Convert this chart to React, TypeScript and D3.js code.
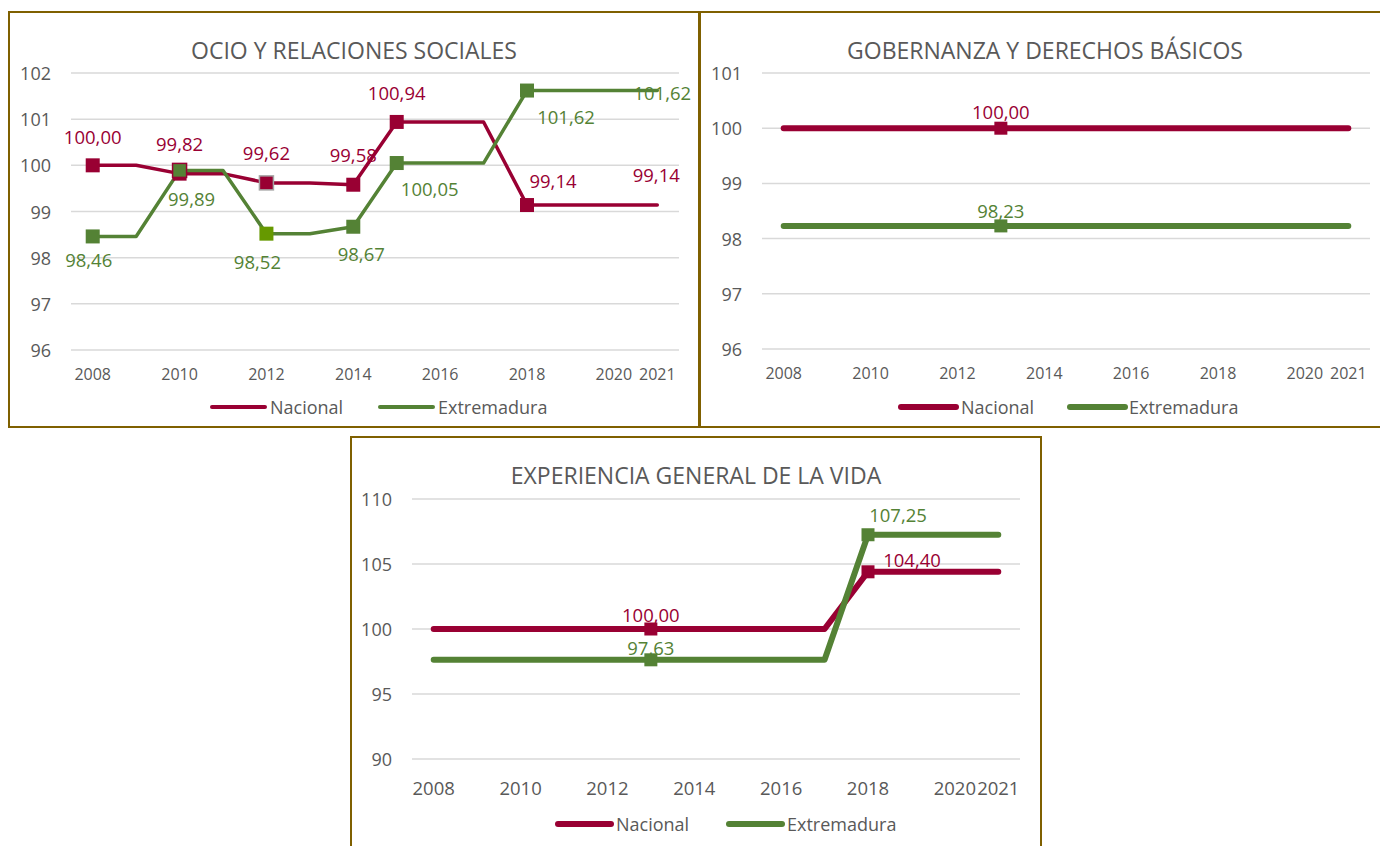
import React from 'react';
import * as d3 from 'd3';

// ---------- DATA ----------
const years = ['2008', '2009', '2010', '2011', '2012', '2013', '2014', '2015', '2016', '2017', '2018', '2019', '2020', '2021'];
const xTickLabels = ['2008', '2010', '2012', '2014', '2016', '2018', '2020', '2021'];
const seriesNames = ['Nacional', 'Extremadura'];

const ocioNacional = [100.0, 100.0, 99.82, 99.82, 99.62, 99.62, 99.58, 100.94, 100.94, 100.94, 99.14, 99.14, 99.14, 99.14];
const ocioExtremadura = [98.46, 98.46, 99.89, 99.89, 98.52, 98.52, 98.67, 100.05, 100.05, 100.05, 101.62, 101.62, 101.62, 101.62];
const ocioYTicks = [96, 97, 98, 99, 100, 101, 102];

const gobNacional = [100.0, 100.0, 100.0, 100.0, 100.0, 100.0, 100.0, 100.0, 100.0, 100.0, 100.0, 100.0, 100.0, 100.0];
const gobExtremadura = [98.23, 98.23, 98.23, 98.23, 98.23, 98.23, 98.23, 98.23, 98.23, 98.23, 98.23, 98.23, 98.23, 98.23];
const gobYTicks = [96, 97, 98, 99, 100, 101];

const expNacional = [100.0, 100.0, 100.0, 100.0, 100.0, 100.0, 100.0, 100.0, 100.0, 100.0, 104.4, 104.4, 104.4, 104.4];
const expExtremadura = [97.63, 97.63, 97.63, 97.63, 97.63, 97.63, 97.63, 97.63, 97.63, 97.63, 107.25, 107.25, 107.25, 107.25];
const expYTicks = [90, 95, 100, 105, 110];

// ---------- STYLE / LAYOUT ----------
const RED = '#990033';
const GREEN = '#548235';
const GRID = '#D9D9D9';
const TEXT = '#595959';
const BORDER = '#7F6000';
const FONT = '"Open Sans", "Noto Sans", sans-serif';

type MarkerSpec = { i: number; fill?: string; stroke?: string };
type LabelSpec = { i: number; dx: number; dy: number };

type PanelCfg = {
  title: string;
  box: [number, number, number, number];
  plot: { left: number; right: number; top: number; bottom: number };
  domain: [number, number];
  yTicks: number[];
  values: number[][];
  lineWidth: number;
  markerSize: number;
  markers: MarkerSpec[][];
  labels: LabelSpec[][];
  titleY: number;
  xLabelY: number;
  xLabelSize: number;
  legendY: number;
  legendX: [number, number, number, number];
  swatchLen: number;
  legendLineWidth: number;
};

const panels: PanelCfg[] = [
  {
    title: 'OCIO Y RELACIONES SOCIALES',
    box: [9, 12, 690, 415],
    plot: { left: 71, right: 679, top: 73, bottom: 350 },
    domain: [96, 102],
    yTicks: ocioYTicks,
    values: [ocioNacional, ocioExtremadura],
    lineWidth: 3.5,
    markerSize: 14,
    markers: [
      [{ i: 0 }, { i: 2 }, { i: 4, stroke: '#A5A5A5' }, { i: 6 }, { i: 7 }, { i: 10 }],
      [{ i: 0 }, { i: 2, stroke: RED }, { i: 4, fill: '#669900' }, { i: 6 }, { i: 7 }, { i: 10 }],
    ],
    labels: [
      [{ i: 0, dx: 0, dy: -29 }, { i: 2, dx: 0, dy: -30 }, { i: 4, dx: 0, dy: -30 }, { i: 6, dx: 0, dy: -30 }, { i: 7, dx: 0, dy: -29 }, { i: 10, dx: 26, dy: -25 }, { i: 13, dx: -1, dy: -31 }],
      [{ i: 0, dx: -4, dy: 23 }, { i: 2, dx: 12, dy: 28 }, { i: 4, dx: -9, dy: 28 }, { i: 6, dx: 8, dy: 27 }, { i: 7, dx: 33, dy: 25 }, { i: 10, dx: 39, dy: 26 }, { i: 13, dx: 5, dy: 2 }],
    ],
    titleY: 50,
    xLabelY: 374,
    xLabelSize: 16,
    legendY: 407,
    legendX: [212, 270, 380, 438],
    swatchLen: 53,
    legendLineWidth: 4,
  },
  {
    title: 'GOBERNANZA Y DERECHOS BÁSICOS',
    box: [700, 12, 690, 415],
    plot: { left: 762, right: 1370, top: 73, bottom: 349 },
    domain: [96, 101],
    yTicks: gobYTicks,
    values: [gobNacional, gobExtremadura],
    lineWidth: 6,
    markerSize: 13,
    markers: [[{ i: 5 }], [{ i: 5 }]],
    labels: [[{ i: 5, dx: 0, dy: -17 }], [{ i: 5, dx: 0, dy: -15 }]],
    titleY: 50,
    xLabelY: 373,
    xLabelSize: 16,
    legendY: 407,
    legendX: [901, 961, 1070, 1129],
    swatchLen: 55,
    legendLineWidth: 6,
  },
  {
    title: 'EXPERIENCIA GENERAL DE LA VIDA',
    box: [351, 437, 690, 430],
    plot: { left: 412, right: 1020, top: 499, bottom: 759 },
    domain: [90, 110],
    yTicks: expYTicks,
    values: [expNacional, expExtremadura],
    lineWidth: 6,
    markerSize: 13,
    markers: [[{ i: 5 }, { i: 10 }], [{ i: 5 }, { i: 10 }]],
    labels: [[{ i: 5, dx: 0, dy: -15 }, { i: 10, dx: 44, dy: -12 }], [{ i: 5, dx: 0, dy: -12 }, { i: 10, dx: 30, dy: -20 }]],
    titleY: 475,
    xLabelY: 787,
    xLabelSize: 18.5,
    legendY: 824,
    legendX: [558, 616, 729, 787],
    swatchLen: 53,
    legendLineWidth: 6,
  },
];

const colors = [RED, GREEN];

const fmt = (v: number) => v.toFixed(2).replace('.', ',');

function Panel({ cfg }: { cfg: PanelCfg }) {
  const x = d3.scalePoint<string>().domain(years).range([cfg.plot.left, cfg.plot.right]).padding(0.5);
  const y = d3.scaleLinear().domain(cfg.domain).range([cfg.plot.bottom, cfg.plot.top]);
  const line = d3
    .line<number>()
    .x((_, i) => x(years[i]) as number)
    .y((d) => y(d));
  const [bx, by, bw, bh] = cfg.box;
  const ms = cfg.markerSize;
  return (
    <g>
      <rect x={bx} y={by} width={bw} height={bh} fill="#fff" stroke={BORDER} strokeWidth={2} />
      <text x={bx + bw / 2} y={cfg.titleY} textAnchor="middle" dominantBaseline="central" fontSize={23} fill={TEXT} fontFamily={FONT}>
        {cfg.title}
      </text>
      {cfg.yTicks.map((t) => (
        <g key={t}>
          <line x1={cfg.plot.left} x2={cfg.plot.right} y1={y(t)} y2={y(t)} stroke={GRID} strokeWidth={1.5} />
          <text x={cfg.plot.left - 20} y={y(t)} textAnchor="end" dominantBaseline="central" fontSize={18} fill={TEXT} fontFamily={FONT}>
            {t}
          </text>
        </g>
      ))}
      {xTickLabels.map((t) => (
        <text key={t} x={x(t) as number} y={cfg.xLabelY} textAnchor="middle" dominantBaseline="central" fontSize={cfg.xLabelSize} fill={TEXT} fontFamily={FONT}>
          {t}
        </text>
      ))}
      {cfg.values.map((vals, s) => (
        <path key={'l' + s} d={line(vals) || ''} fill="none" stroke={colors[s]} strokeWidth={cfg.lineWidth} strokeLinejoin="round" strokeLinecap="round" />
      ))}
      {cfg.values.map((vals, s) =>
        cfg.markers[s].map((m) => (
          <rect
            key={'m' + s + '-' + m.i}
            x={(x(years[m.i]) as number) - ms / 2}
            y={y(vals[m.i]) - ms / 2}
            width={ms}
            height={ms}
            fill={m.fill || colors[s]}
            stroke={m.stroke || 'none'}
            strokeWidth={m.stroke ? 1.5 : 0}
          />
        ))
      )}
      {cfg.values.map((vals, s) =>
        cfg.labels[s].map((l) => (
          <text
            key={'t' + s + '-' + l.i}
            x={(x(years[l.i]) as number) + l.dx}
            y={y(vals[l.i]) + l.dy}
            textAnchor="middle"
            dominantBaseline="central"
            fontSize={18.5}
            fill={colors[s]}
            fontFamily={FONT}
          >
            {fmt(vals[l.i])}
          </text>
        ))
      )}
      {seriesNames.map((name, s) => (
        <g key={name}>
          <line
            x1={cfg.legendX[s * 2]}
            x2={cfg.legendX[s * 2] + cfg.swatchLen}
            y1={cfg.legendY}
            y2={cfg.legendY}
            stroke={colors[s]}
            strokeWidth={cfg.legendLineWidth}
            strokeLinecap="round"
          />
          <text x={cfg.legendX[s * 2 + 1]} y={cfg.legendY} dominantBaseline="central" fontSize={18} fill={TEXT} fontFamily={FONT}>
            {name}
          </text>
        </g>
      ))}
    </g>
  );
}

export default function App() {
  return (
    <svg width={1380} height={846} style={{ position: 'absolute', left: 0, top: 0, background: '#fff' }}>
      <rect x={0} y={0} width={1380} height={846} fill="#fff" />
      {panels.map((p) => (
        <Panel key={p.title} cfg={p} />
      ))}
    </svg>
  );
}
